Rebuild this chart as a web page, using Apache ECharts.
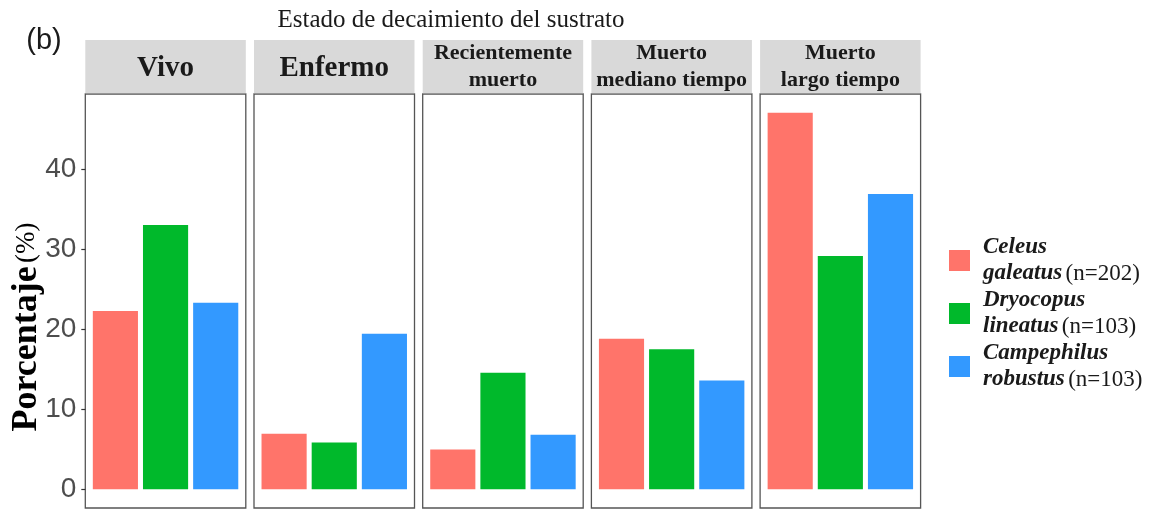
<!DOCTYPE html>
<html>
<head>
<meta charset="utf-8">
<script src="https://cdn.jsdelivr.net/npm/echarts@6/dist/echarts.min.js"></script>
<style>
  html, body { margin: 0; padding: 0; background: #fff; }
  #chart { width: 1160px; height: 510px; }
</style>
</head>
<body>
<div id="chart"></div>
<script>
// Decay stages of the substrate (one facet each)
const stages = ['Vivo', 'Enfermo', 'Recientemente\nmuerto', 'Muerto\nmediano tiempo', 'Muerto\nlargo tiempo'];
// Woodpecker species and sample sizes
const genus = ['Celeus', 'Dryocopus', 'Campephilus'];
const epithet = ['galeatus', 'lineatus', 'robustus'];
const sampleN = [202, 103, 103];
// Percentage of nests per decay stage, one array per species
const celeus = [22.28, 6.93, 4.95, 18.81, 47.03];
const dryocopus = [33.01, 5.83, 14.56, 17.48, 29.13];
const campephilus = [23.30, 19.42, 6.80, 13.59, 36.89];
const yTicks = [0, 10, 20, 30, 40];

const seriesValues = [celeus, dryocopus, campephilus];
const colors = ['#FF746A', '#00B92B', '#3399FF'];
const names = genus.map((g, i) => g + ' ' + epithet[i]);

const SERIF = "'Liberation Serif', 'Times New Roman', serif";
const SANS = "'Liberation Sans', Arial, sans-serif";

// facet geometry
const panelLeft0 = 85.3, panelStep = 168.7, panelW = 160.5;
const panelTop = 94, panelBottom = 508;
const stripTop = 40, stripH = 53.3;
const nCat = genus.length;
const xMin = 1 - 0.6, xMax = nCat + 0.6;
const barW = panelW / (xMax - xMin) * 0.9;

// y range with 5% padding like the plotting default
const dataMax = Math.max(...seriesValues.flat());
const pad = dataMax * 0.05;
const yMin = -pad, yMax = dataMax + pad;

const grids = [], xAxes = [], yAxes = [], series = [], graphics = [];

stages.forEach((stage, p) => {
  const left = panelLeft0 + p * panelStep;
  grids.push({
    left: left, top: panelTop, width: panelW, height: panelBottom - panelTop,
    show: true, borderColor: '#555555', borderWidth: 1.3, backgroundColor: '#fff'
  });
  xAxes.push({
    type: 'value', gridIndex: p, min: xMin, max: xMax,
    show: false
  });
  yAxes.push({
    type: 'value', gridIndex: p, min: yMin, max: yMax,
    axisLine: { show: false },
    splitLine: { show: false },
    axisTick: { show: p === 0, length: 4, lineStyle: { color: '#333333', width: 1.2 }, customValues: yTicks },
    axisLabel: { show: p === 0, margin: 9, color: '#4D4D4D', fontFamily: SANS, fontSize: 28, customValues: yTicks }
  });
  seriesValues.forEach((vals, s) => {
    series.push({
      name: names[s], type: 'bar', xAxisIndex: p, yAxisIndex: p,
      barWidth: barW, barGap: '-100%',
      itemStyle: { color: colors[s] },
      data: [[s + 1, vals[p]]],
      silent: true
    });
  });
  // strip header
  const twoLine = stage.indexOf('\n') >= 0;
  graphics.push({
    type: 'rect', silent: true,
    shape: { x: left, y: stripTop, width: panelW, height: stripH },
    style: { fill: '#D9D9D9' }
  });
  graphics.push({
    type: 'text', silent: true,
    x: left + panelW / 2, y: stripTop + stripH / 2 + (twoLine ? 0 : 2),
    style: {
      text: stage, align: 'center', verticalAlign: 'middle',
      font: 'bold ' + (twoLine ? 22 : 29) + 'px ' + SERIF,
      lineHeight: twoLine ? 27 : 34,
      fill: '#1A1A1A'
    }
  });
});

graphics.push({
  type: 'text', silent: true, x: 451, y: 20,
  style: { text: 'Estado de decaimiento del sustrato', align: 'center', verticalAlign: 'middle',
           font: '25px ' + SERIF, fill: '#1A1A1A' }
});
graphics.push({
  type: 'text', silent: true, x: 44, y: 41,
  style: { text: '(b)', align: 'center', verticalAlign: 'middle', font: '29px ' + SANS, fill: '#1A1A1A' }
});
graphics.push({
  type: 'text', silent: true, x: 27, y: 327, rotation: Math.PI / 2,
  style: {
    text: '{b|Porcentaje} {r|(%)}', align: 'center', verticalAlign: 'middle',
    rich: {
      b: { fontFamily: SERIF, fontWeight: 'bold', fontSize: 36, fill: '#000' },
      r: { fontFamily: SERIF, fontSize: 27, fill: '#000' }
    }
  }
});

const chart = echarts.init(document.getElementById('chart'), null, { renderer: 'canvas' });
chart.setOption({
  animation: false,
  backgroundColor: '#fff',
  grid: grids,
  xAxis: xAxes,
  yAxis: yAxes,
  series: series,
  legend: {
    data: names,
    orient: 'vertical',
    left: 944, top: 231,
    itemWidth: 21, itemHeight: 21, itemGap: 4,
    icon: 'rect',
    selectedMode: false,
    formatter: function (name) {
      const i = names.indexOf(name);
      return '{i|' + genus[i] + '}\n{i|' + epithet[i] + '} {r|(n=' + sampleN[i] + ')}';
    },
    textStyle: {
      padding: [0, 0, 0, 8],
      rich: {
        i: { fontFamily: SERIF, fontWeight: 'bold', fontStyle: 'italic', fontSize: 23, lineHeight: 26, color: '#1A1A1A' },
        r: { fontFamily: SERIF, fontSize: 23, lineHeight: 26, color: '#1A1A1A' }
      }
    }
  },
  graphic: graphics
});
</script>
</body>
</html>
